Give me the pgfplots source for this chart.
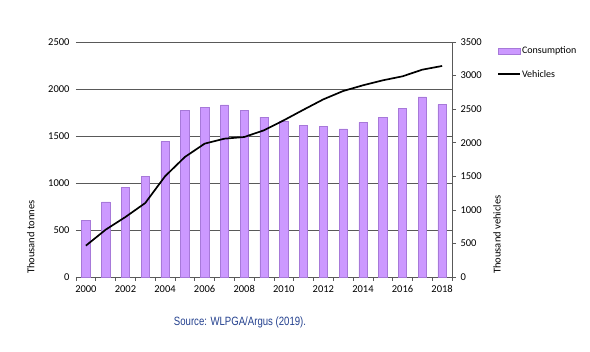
\documentclass[border=0pt]{standalone}
\usepackage{fontspec}
\setmainfont{Carlito}
\newfontfamily\srcfont[FakeStretch=0.8]{Liberation Sans}
\usepackage{pgfplots}
\pgfplotsset{compat=1.18}
\definecolor{barfill}{HTML}{CC99FF}
\definecolor{baredge}{HTML}{A779D9}
\definecolor{gridc}{HTML}{595959}
\definecolor{srcblue}{HTML}{23408E}
\begin{document}
\begin{tikzpicture}
\begin{axis}[
  name=ax,
  scale only axis, width=376bp, height=235bp,
  xmin=-0.5, xmax=18.5, ymin=0, ymax=2500,
  xtick={0,2,...,18},
  xticklabels={2000,2002,2004,2006,2008,2010,2012,2014,2016,2018},
  minor xtick={-0.5,0.5,...,18.5},
  ytick={0,500,...,2500},
  axis x line*=bottom, axis y line*=left,
  y axis line style={draw=none},
  x axis line style={draw=gridc, line width=0.8pt, -},
  major x tick style={draw=none},
  minor x tick style={draw=gridc, line width=0.6pt},
  minor tick length=4bp,
  xtick align=outside,
  major y tick style={draw=none},
  ymajorgrids, grid style={draw=gridc, line width=0.8pt},
  tick label style={font=\fontsize{10.5bp}{12bp}\selectfont},
  /pgf/number format/assume math mode=true,
  /pgf/number format/set thousands separator={},
  ylabel={Thousand tonnes},
  ylabel style={at={(axis description cs:-0.12,0.17)}, anchor=center, font=\fontsize{10.5bp}{12bp}\selectfont},
  xticklabel style={yshift=-1bp},
  yticklabel style={xshift=-3bp},
]
\addplot[ybar, bar width=0.42, fill=barfill, draw=baredge, line width=0.5pt] coordinates {
(0,603) (1,798) (2,957) (3,1071) (4,1440) (5,1773) (6,1808) (7,1830) (8,1770) (9,1702)
(10,1660) (11,1611) (12,1600) (13,1575) (14,1646) (15,1696) (16,1792) (17,1915) (18,1834)
};
\end{axis}
\begin{axis}[
  scale only axis, width=376bp, height=235bp,
  xmin=-0.5, xmax=18.5, ymin=0, ymax=3500,
  axis x line=none, axis y line*=right,
  y axis line style={draw=gridc, line width=0.8pt, -},
  ytick={0,500,...,3500},
  ytick align=outside, major tick length=4bp,
  major y tick style={draw=gridc, line width=0.6pt},
  tick label style={font=\fontsize{10.5bp}{12bp}\selectfont},
  /pgf/number format/assume math mode=true,
  /pgf/number format/set thousands separator={},
  yticklabel style={xshift=1bp},
  ylabel={Thousand vehicles},
  ylabel style={at={(axis description cs:1.12,0.18)}, anchor=center, font=\fontsize{10.5bp}{12bp}\selectfont},
  legend style={at={(axis description cs:1.12,0.985)}, anchor=north west, draw=none, fill=none,
    font=\fontsize{10bp}{11bp}\selectfont, row sep=13bp, inner sep=0pt,
    nodes={inner sep=1pt}},
  legend cell align=left,
]
\addlegendimage{legend image code/.code={\draw[fill=barfill,draw=baredge,line width=0.5pt] (0bp,-3bp) rectangle (22bp,3bp);}}
\addlegendentry{Consumption}
\addplot[black, line width=1.7pt, no marks, legend image code/.code={\draw[black,line width=1.7pt] (0bp,0bp) -- (22bp,0bp);}] coordinates {
(0,467) (1,705) (2,894) (3,1102) (4,1500) (5,1787) (6,1986) (7,2060) (8,2085) (9,2185)
(10,2334) (11,2492) (12,2646) (13,2770) (14,2855) (15,2929) (16,2989) (17,3088) (18,3143)
};
\addlegendentry{Vehicles}
\end{axis}
\node[font=\srcfont\fontsize{12bp}{14bp}\selectfont, text=srcblue, anchor=center] at ([xshift=164bp,yshift=-45bp]ax.south west) {Source: WLPGA/Argus (2019).};
\pgfresetboundingbox
\path[use as bounding box] ([xshift=-76bp,yshift=-75bp]ax.south west) rectangle ([xshift=138bp,yshift=42bp]ax.north east);
\end{tikzpicture}
\end{document}
